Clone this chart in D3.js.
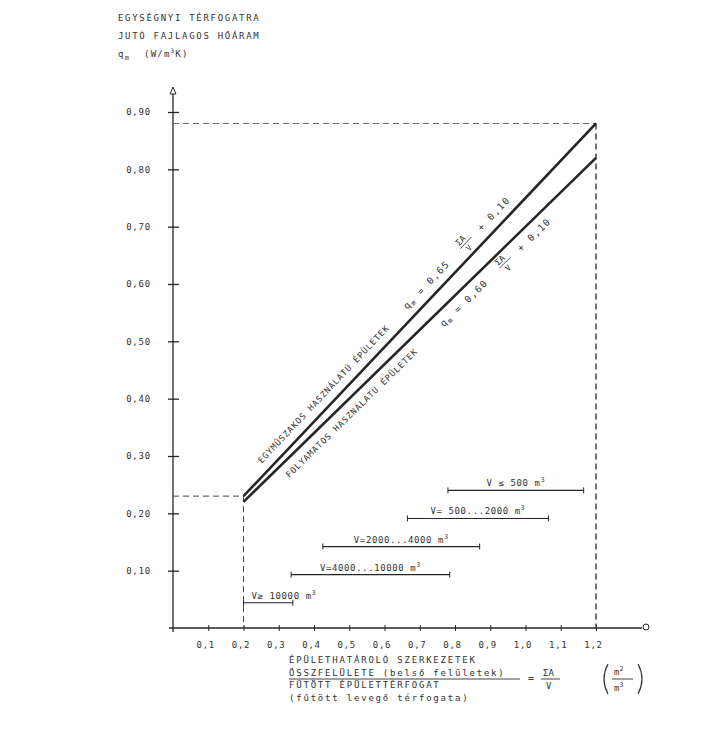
<!DOCTYPE html>
<html>
<head>
<meta charset="utf-8">
<script src="https://cdn.jsdelivr.net/npm/d3@7"></script>
<style>
  body { margin: 0; background: #fff; }
  svg { display: block; }
  text { font-family: "DejaVu Sans Mono", "Liberation Mono", monospace; fill: #333; }
</style>
</head>
<body>
<svg></svg>
<script>
var width = 704;
var height = 730;

// tick values / labels
var xTicks = [0.1, 0.2, 0.3, 0.4, 0.5, 0.6, 0.7, 0.8, 0.9, 1.0, 1.1, 1.2];
var yTicks = [0.10, 0.20, 0.30, 0.40, 0.50, 0.60, 0.70, 0.80, 0.90];

// the two lines: q = a * (ΣA/V) + b, drawn from 0.2 to 1.2
var lineNames = ["EGYMŰSZAKOS HASZNÁLATÚ ÉPÜLETEK", "FOLYAMATOS HASZNÁLATÚ ÉPÜLETEK"];
var lineSlope = [0.65, 0.60];
var lineConst = [0.10, 0.10];
var lineSlopeTxt = ["0,65", "0,60"];
var lineConstTxt = ["0,10", "0,10"];
var lineFrom = 0.2, lineTo = 1.2;

// volume ranges along the ΣA/V axis
var rangeLabels = ["V ≤ 500 m³", "V= 500...2000 m³", "V=2000...4000 m³", "V=4000...10000 m³", "V≥ 10000 m³"];
var rangeLo = [0.78, 0.665, 0.425, 0.335, 0.2];
var rangeHi = [1.165, 1.065, 0.87, 0.785, 0.34];

var yTitle = ["EGYSÉGNYI TÉRFOGATRA", "JUTÓ FAJLAGOS HŐÁRAM"];
var xTitle = ["ÉPÜLETHATÁROLÓ SZERKEZETEK", "ÖSSZFELÜLETE (belső felületek)", "FŰTÖTT ÉPÜLETTÉRFOGAT", "(fűtött levegő térfogata)"];

var svg = d3.select("svg").attr("width", width).attr("height", height);

var x = d3.scaleLinear().domain([0, 1.2]).range([173, 596]);
var y = d3.scaleLinear().domain([0, 0.9]).range([628, 112]);
var ink = "#262626";
var fmt = function(d, n) { return d3.format("." + n + "f")(d).replace(".", ","); };

// y axis title
svg.append("g").selectAll("text").data(yTitle).enter().append("text")
  .attr("x", 118).attr("y", function(d, i) { return 21 + i * 18; })
  .attr("font-size", 9).attr("letter-spacing", 1.7).text(function(d) { return d; });
var qt = svg.append("text").attr("x", 118).attr("y", 57).attr("font-size", 9).attr("letter-spacing", 1.2);
qt.append("tspan").text("q");
qt.append("tspan").attr("font-size", 7).attr("dy", 3).text("m");
qt.append("tspan").attr("dy", -3).attr("dx", 14).text("(W/m");
qt.append("tspan").attr("font-size", 6).attr("dy", -4).text("3");
qt.append("tspan").attr("dy", 4).text("K)");

// axes
var xAxis = d3.axisBottom(x).tickValues(xTicks).tickSizeInner(6).tickSizeOuter(0).tickPadding(8)
  .tickFormat(function(d) { return fmt(d, 1); });
var gx = svg.append("g").attr("transform", "translate(0," + y(0) + ")").call(xAxis);
gx.select(".domain").remove();
gx.selectAll(".tick line").attr("y1", -3).attr("y2", 3).attr("stroke", ink);
gx.selectAll(".tick text").attr("font-size", 9).attr("letter-spacing", 0.8).attr("dx", -3).attr("fill", "#333")
  .style("font-family", "DejaVu Sans Mono, monospace");

var yAxis = d3.axisLeft(y).tickValues(yTicks).tickSizeInner(6).tickSizeOuter(0).tickPadding(16)
  .tickFormat(function(d) { return fmt(d, 2); });
var gy = svg.append("g").attr("transform", "translate(" + x(0) + ",0)").call(yAxis);
gy.select(".domain").remove();
gy.selectAll(".tick line").attr("x1", -5).attr("x2", 6).attr("stroke", ink).attr("stroke-width", 1.3);
gy.selectAll(".tick text").attr("font-size", 9).attr("letter-spacing", 0.8).attr("fill", "#333")
  .style("font-family", "DejaVu Sans Mono, monospace");

// axis lines with ends
svg.append("line").attr("x1", x(0) - 4).attr("x2", 642).attr("y1", y(0)).attr("y2", y(0))
  .attr("stroke", ink).attr("stroke-width", 1.3);
svg.append("circle").attr("cx", 646).attr("cy", y(0) - 1).attr("r", 3).attr("fill", "none").attr("stroke", ink);
svg.append("line").attr("x1", x(0)).attr("x2", x(0)).attr("y1", y(0) + 4).attr("y2", 94)
  .attr("stroke", ink).attr("stroke-width", 1.3);
svg.append("path").attr("d", "M" + (x(0) - 3) + ",94 L" + x(0) + ",87 L" + (x(0) + 3) + ",94 Z")
  .attr("fill", "none").attr("stroke", ink);

// dashed guides
var f = function(i, v) { return lineSlope[i] * v + lineConst[i]; };
var dash = svg.append("g").attr("stroke", "#444").attr("stroke-dasharray", "6,4").attr("fill", "none");
dash.append("line").attr("x1", x(0)).attr("x2", x(lineFrom)).attr("y1", y(f(0, lineFrom))).attr("y2", y(f(0, lineFrom)));
dash.append("line").attr("x1", x(lineFrom)).attr("x2", x(lineFrom)).attr("y1", y(f(0, lineFrom))).attr("y2", y(0));
dash.append("line").attr("x1", x(0)).attr("x2", x(lineTo)).attr("y1", y(f(0, lineTo))).attr("y2", y(f(0, lineTo)))
  .attr("stroke", "#666");
dash.append("line").attr("x1", x(lineTo)).attr("x2", x(lineTo)).attr("y1", y(f(0, lineTo))).attr("y2", y(0) + 5)
  .attr("stroke-width", 1.5);

// the two straight lines
var lineGen = d3.line().x(function(d) { return x(d[0]); }).y(function(d) { return y(d[1]); });
lineSlope.forEach(function(s, i) {
  svg.append("path").datum([[lineFrom, f(i, lineFrom)], [lineTo, f(i, lineTo)]])
    .attr("d", lineGen).attr("stroke", ink).attr("stroke-width", 2.6).attr("fill", "none");
});

// rotated labels along the lines
var labelAt = [0.27, 0.3];
var labelDy = [-9, 15];
lineNames.forEach(function(name, i) {
  var a = labelAt[i];
  var ang = Math.atan2(y(f(i, lineTo)) - y(f(i, lineFrom)), x(lineTo) - x(lineFrom)) * 180 / Math.PI;
  var g = svg.append("g").attr("transform", "translate(" + x(a) + "," + y(f(i, a)) + ") rotate(" + ang + ")");
  var dy = labelDy[i];
  g.append("text").attr("y", dy).attr("font-size", 8.5).attr("letter-spacing", 0.9).text(name);
  var fx = i === 0 ? 212 : 216;
  var t = g.append("text").attr("x", fx).attr("y", dy).attr("font-size", 9.5).attr("letter-spacing", 1.4);
  t.append("tspan").text("q");
  t.append("tspan").attr("font-size", 7).attr("dy", 2).text("m");
  t.append("tspan").attr("dy", -2).text(" = " + lineSlopeTxt[i]);
  g.append("text").attr("x", fx + 82).attr("y", dy - 6).attr("font-size", 8.5).text("ΣA");
  g.append("line").attr("x1", fx + 81).attr("x2", fx + 97).attr("y1", dy - 3.5).attr("y2", dy - 3.5)
    .attr("stroke", "#333").attr("stroke-width", 0.8);
  g.append("text").attr("x", fx + 85).attr("y", dy + 5).attr("font-size", 8).text("V");
  g.append("text").attr("x", fx + 108).attr("y", dy).attr("font-size", 9.5).attr("letter-spacing", 1.4)
    .text("+ " + lineConstTxt[i]);
});

// volume range bars
var rowY = function(i) { return y(0.24 - i * 0.049); };
var rg = svg.append("g");
rangeLabels.forEach(function(lab, i) {
  var yy = rowY(i), x0 = x(rangeLo[i]), x1 = x(rangeHi[i]);
  rg.append("line").attr("x1", x0).attr("x2", x1).attr("y1", yy).attr("y2", yy).attr("stroke", ink).attr("stroke-width", 1.2);
  rg.append("line").attr("x1", x0).attr("x2", x0).attr("y1", yy - 3).attr("y2", yy + 3).attr("stroke", ink);
  rg.append("line").attr("x1", x1).attr("x2", x1).attr("y1", yy - 3).attr("y2", yy + 3).attr("stroke", ink);
  var last = i === rangeLabels.length - 1;
  var tx = rg.append("text").attr("x", last ? x0 + 8 : (x0 + x1) / 2).attr("y", yy - 4)
    .attr("text-anchor", last ? "start" : "middle").attr("font-size", 9).attr("letter-spacing", 0.6);
  var parts = lab.split("³");
  tx.append("tspan").text(parts[0]);
  tx.append("tspan").attr("font-size", 6.5).attr("dy", -4).text("3");
});

// x axis title
svg.append("g").selectAll("text").data(xTitle).enter().append("text")
  .attr("x", 289).attr("y", function(d, i) { return 663 + i * 12.5; })
  .attr("font-size", 9).attr("letter-spacing", 1.8).text(function(d) { return d; });
svg.append("line").attr("x1", 289).attr("x2", 520).attr("y1", 679).attr("y2", 679).attr("stroke", "#444").attr("stroke-width", 1);
svg.append("text").attr("x", 528).attr("y", 682).attr("font-size", 10).text("=");
svg.append("text").attr("x", 543).attr("y", 676).attr("font-size", 9).text("ΣA");
svg.append("line").attr("x1", 541).attr("x2", 560).attr("y1", 679).attr("y2", 679).attr("stroke", "#444");
svg.append("text").attr("x", 546).attr("y", 689).attr("font-size", 9).text("V");

// unit (m²/m³) in tall parentheses
var unit = svg.append("g");
var paren = function(xe, dir) {
  var p = d3.path();
  p.moveTo(xe, 664);
  p.quadraticCurveTo(xe - dir * 8, 679, xe, 694);
  return p.toString();
};
unit.append("path").attr("d", paren(608, 1)).attr("fill", "none").attr("stroke", "#333").attr("stroke-width", 1.2);
unit.append("path").attr("d", paren(638, -1)).attr("fill", "none").attr("stroke", "#333").attr("stroke-width", 1.2);
var um = unit.append("text").attr("x", 614).attr("y", 675).attr("font-size", 9);
um.append("tspan").text("m");
um.append("tspan").attr("font-size", 6.5).attr("dy", -4).text("2");
unit.append("line").attr("x1", 612).attr("x2", 633).attr("y1", 679).attr("y2", 679).attr("stroke", "#444");
var um2 = unit.append("text").attr("x", 614).attr("y", 691).attr("font-size", 9);
um2.append("tspan").text("m");
um2.append("tspan").attr("font-size", 6.5).attr("dy", -4).text("3");
</script>
</body>
</html>
